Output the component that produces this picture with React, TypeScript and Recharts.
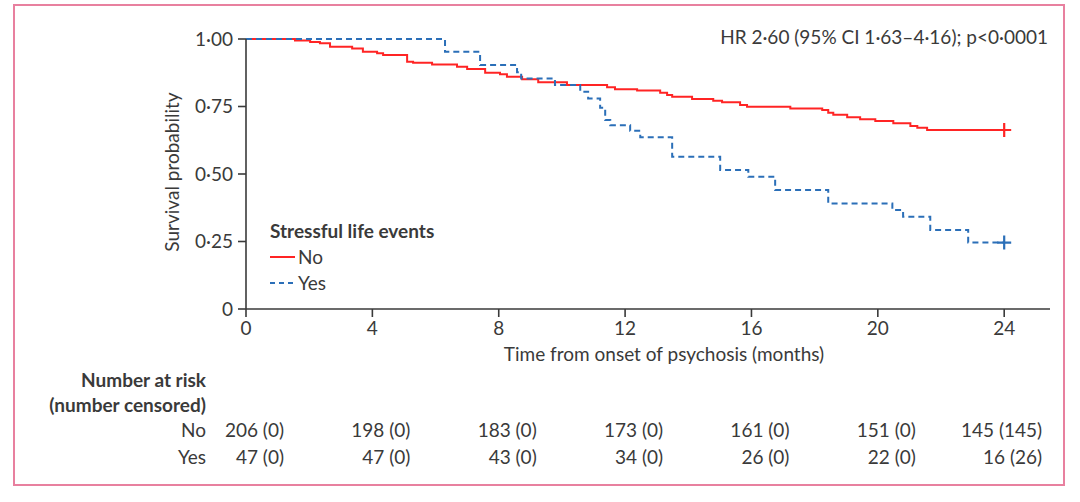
import { ComposedChart, Line, XAxis, YAxis } from 'recharts'

// Kaplan-Meier steps (months, survival)
const noMonths = [0, 1.55, 2.03, 2.34, 2.66, 3.36, 3.7, 4.15, 4.34, 5.1, 5.29, 5.89, 6.68, 7.0, 7.57, 8.04, 8.26, 8.74, 9.25, 10.16, 11.43, 11.68, 12.38, 13.11, 13.33, 13.49, 14.12, 14.79, 15.07, 15.64, 15.86, 17.23, 18.24, 18.43, 18.59, 19.03, 19.44, 19.92, 20.49, 21.03, 21.25, 21.56, 24]
const noSurv = [1, 0.994, 0.989, 0.984, 0.971, 0.965, 0.953, 0.947, 0.941, 0.916, 0.912, 0.906, 0.897, 0.889, 0.875, 0.869, 0.86, 0.851, 0.84, 0.83, 0.821, 0.814, 0.809, 0.801, 0.793, 0.786, 0.778, 0.771, 0.766, 0.756, 0.749, 0.743, 0.737, 0.727, 0.719, 0.71, 0.703, 0.696, 0.688, 0.678, 0.671, 0.663, 0.663]

const yesMonths = [0, 6.3, 7.41, 8.58, 8.71, 9.78, 10.58, 10.83, 11.21, 11.37, 11.53, 12.16, 12.48, 13.49, 15.01, 15.9, 16.75, 18.43, 20.46, 20.8, 21.66, 22.86, 24]
const yesSurv = [1, 0.953, 0.904, 0.877, 0.854, 0.83, 0.805, 0.78, 0.745, 0.7, 0.681, 0.66, 0.636, 0.564, 0.515, 0.49, 0.441, 0.391, 0.367, 0.342, 0.293, 0.246, 0.246]

const xTicks = [0, 4, 8, 12, 16, 20, 24]
const yTicks = [0, 0.25, 0.5, 0.75, 1]
const riskNo = ['206 (0)', '198 (0)', '183 (0)', '173 (0)', '161 (0)', '151 (0)', '145 (145)']
const riskYes = ['47 (0)', '47 (0)', '43 (0)', '34 (0)', '26 (0)', '22 (0)', '16 (26)']

const noData = noMonths.map((t, i) => ({ t, s: noSurv[i] }))
const yesData = yesMonths.map((t, i) => ({ t, s: yesSurv[i] }))

const RED = '#ff2424'
const BLUE = '#2b6fb8'
const INK = '#3a3a3a'
const FONT = 'Lato, "Open Sans", sans-serif'
const FS = 19

const W = 1080
const H = 502
const PLOT_L = 246
const PLOT_R = 1050
const X_MAX = 25.45
const xpx = (m: number) => PLOT_L + (m / X_MAX) * (PLOT_R - PLOT_L)

const fmtY = (v: number) => (v === 0 ? '0' : v.toFixed(2).replace('.', '·'))

const censorDot = (color: string, last: number) => (p: any) => {
  if (p.index !== last) return <g key={p.key} />
  return (
    <path
      key={p.key}
      d={`M${p.cx - 7},${p.cy}H${p.cx + 7}M${p.cx},${p.cy - 7}V${p.cy + 7}`}
      stroke={color}
      strokeWidth={2.2}
      fill="none"
    />
  )
}

const abs = (x: number, y: number, extra: any = {}) => ({
  position: 'absolute' as const, left: x, top: y, fontFamily: FONT, color: INK, fontSize: FS,
  lineHeight: '22px', whiteSpace: 'nowrap' as const, ...extra,
})

export default function App() {
  return (
    <div style={{ position: 'absolute', left: 0, top: 0, width: W, height: H, background: '#fff' }}>
      <div style={{ position: 'absolute', left: 13, top: 4, width: 1052, height: 482, border: '2px solid #e8809f', boxSizing: 'border-box' }} />
      <ComposedChart width={W} height={H} margin={{ top: 39, right: W - PLOT_R, bottom: 163, left: 186 }}>
        <XAxis
          type="number" dataKey="t" domain={[0, X_MAX]} ticks={xTicks} allowDataOverflow
          axisLine={{ stroke: INK, strokeWidth: 1.6 }} tickLine={{ stroke: INK, strokeWidth: 1.6 }}
          tickSize={8} tickMargin={5} height={30}
          tick={{ fill: INK, fontSize: FS, fontFamily: FONT }}
        />
        <YAxis
          type="number" dataKey="s" domain={[0, 1]} ticks={yTicks} width={60}
          axisLine={{ stroke: INK, strokeWidth: 1.6 }} tickLine={{ stroke: INK, strokeWidth: 1.6 }}
          tickSize={8} tickMargin={5} tickFormatter={fmtY}
          tick={{ fill: INK, fontSize: FS, fontFamily: FONT }}
        />
        <Line
          data={noData} dataKey="s" type="stepAfter" stroke={RED} strokeWidth={2}
          dot={censorDot(RED, noData.length - 1)} activeDot={false} isAnimationActive={false}
        />
        <Line
          data={yesData} dataKey="s" type="stepAfter" stroke={BLUE} strokeWidth={2}
          strokeDasharray="6 4" dot={censorDot(BLUE, yesData.length - 1)} activeDot={false}
          isAnimationActive={false}
        />
      </ComposedChart>

      {/* legend */}
      <div style={abs(270, 218, { lineHeight: '26px' })}>
        <div style={{ fontWeight: 700 }}>Stressful life events</div>
        <div style={{ display: 'flex', alignItems: 'center' }}>
          <svg width={26} height={10}><line x1={0} y1={5} x2={25} y2={5} stroke={RED} strokeWidth={2} /></svg>
          <span style={{ marginLeft: 2 }}>No</span>
        </div>
        <div style={{ display: 'flex', alignItems: 'center' }}>
          <svg width={26} height={10}><line x1={0} y1={5} x2={25} y2={5} stroke={BLUE} strokeWidth={2} strokeDasharray="5 4" /></svg>
          <span style={{ marginLeft: 2 }}>Yes</span>
        </div>
      </div>

      <div style={abs(0, 26, { width: 1048, textAlign: 'right' })}>
        HR 2·60 (95% CI 1·63–4·16); p&lt;0·0001
      </div>
      <div style={abs(PLOT_L, 343, { width: 2 * (664 - PLOT_L), textAlign: 'center' })}>
        Time from onset of psychosis (months)
      </div>
      <div style={abs(172, 172, { transform: 'translate(-50%, -50%) rotate(-90deg)' })}>
        Survival probability
      </div>

      <div style={abs(0, 369, { width: 206, textAlign: 'right', fontWeight: 700 })}>Number at risk</div>
      <div style={abs(0, 394, { width: 206, textAlign: 'right', fontWeight: 700 })}>(number censored)</div>
      <div style={abs(0, 419, { width: 206, textAlign: 'right' })}>No</div>
      <div style={abs(0, 446, { width: 206, textAlign: 'right' })}>Yes</div>
      {xTicks.map((t, i) => (
        <div key={'n' + t} style={abs(0, 419, { width: xpx(t) + 38, textAlign: 'right' })}>{riskNo[i]}</div>
      ))}
      {xTicks.map((t, i) => (
        <div key={'y' + t} style={abs(0, 446, { width: xpx(t) + 38, textAlign: 'right' })}>{riskYes[i]}</div>
      ))}
    </div>
  )
}
